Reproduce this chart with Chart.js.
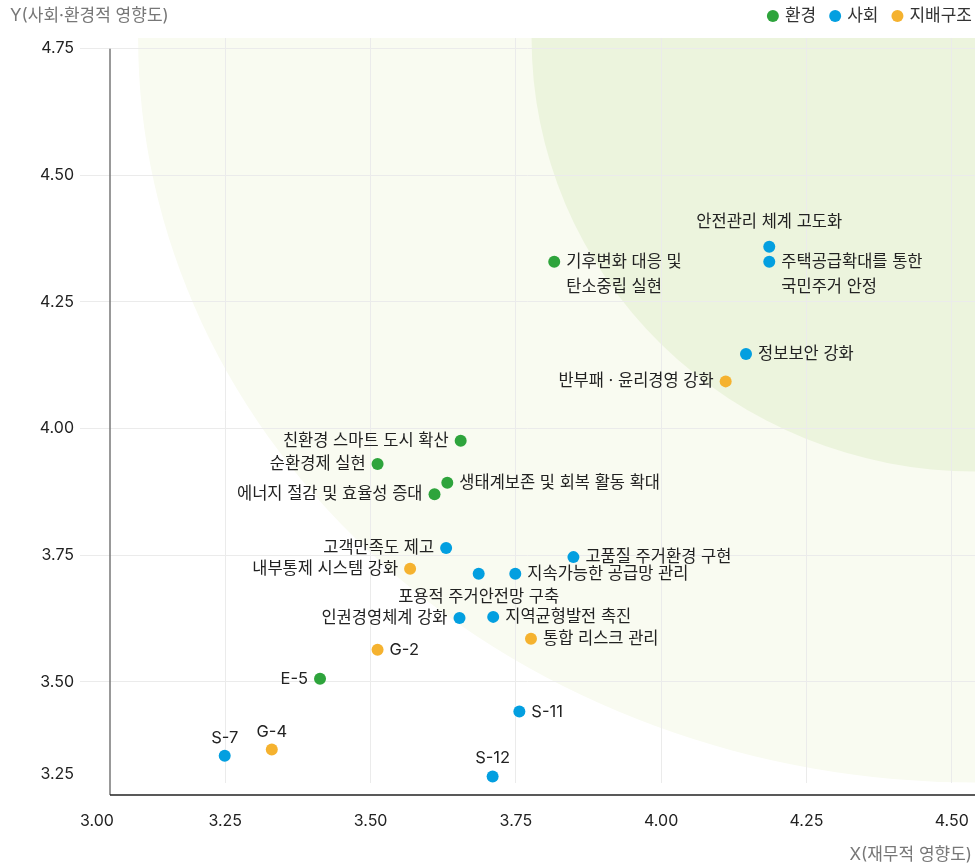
<!DOCTYPE html>
<html lang="ko">
<head>
<meta charset="utf-8">
<title>중대성 평가 매트릭스</title>
<script src="https://cdn.jsdelivr.net/npm/chart.js@4.4.1/dist/chart.umd.min.js"></script>
<style>
  html, body { margin: 0; padding: 0; background: #fff; }
  #wrap { width: 975px; height: 864px; }
</style>
</head>
<body>
<div id="wrap"><canvas id="matrix" width="975" height="864"></canvas></div>
<script>
// axis ticks and visible range
const xTicks = [3.00, 3.25, 3.50, 3.75, 4.00, 4.25, 4.50];
const yTicks = [3.25, 3.50, 3.75, 4.00, 4.25, 4.50, 4.75];
const xRange = [3.00, 4.54];
const yRange = [3.30, 4.771];

const seriesNames = ['환경', '사회', '지배구조'];

// 환경
const envLabels = ['기후변화 대응 및\n탄소중립 실현', '친환경 스마트 도시 확산', '순환경제 실현',
  '생태계보존 및 회복 활동 확대', '에너지 절감 및 효율성 증대', 'E-5'];
const envX = [3.816, 3.655, 3.512, 3.632, 3.610, 3.413];
const envY = [4.329, 3.976, 3.930, 3.893, 3.870, 3.506];

// 사회
const socLabels = ['안전관리 체계 고도화', '주택공급확대를 통한\n국민주거 안정', '정보보안 강화', '고객만족도 제고',
  '고품질 주거환경 구현', '포용적 주거안전망 구축', '지속가능한 공급망 관리', '인권경영체계 강화',
  '지역균형발전 촉진', 'S-11', 'S-7', 'S-12'];
const socX = [4.186, 4.186, 4.146, 3.630, 3.849, 3.686, 3.749, 3.653, 3.711, 3.756, 3.249, 3.710];
const socY = [4.359, 4.329, 4.147, 3.764, 3.746, 3.713, 3.713, 3.626, 3.628, 3.441, 3.354, 3.313];

// 지배구조
const govLabels = ['반부패 · 윤리경영 강화', '내부통제 시스템 강화', '통합 리스크 관리', 'G-2', 'G-4'];
const govX = [4.111, 3.568, 3.776, 3.512, 3.330];
const govY = [4.093, 3.723, 3.585, 3.563, 3.366];

// label placement: r = right, l = left, t = above, T = further above, b = below
const envSide = ['r', 'l', 'l', 'r', 'l', 'l'];
const socSide = ['T', 'r', 'r', 'l', 'r', 'b', 'r', 'l', 'r', 'r', 't', 't'];
const govSide = ['l', 'l', 'r', 'r', 't'];

// background zones, radii in axis units from the top-right corner
const zoneRx = [1.44, 0.763];
const zoneRy = [1.47, 0.856];
const zoneColors = ['#f9fbf1', '#ecf4dd'];

const seriesColors = ['#2ea43c', '#039fe0', '#f5b22f'];
const FONT = '"Inter", "Noto Sans CJK KR", sans-serif';

const toPoints = (xs, ys) => xs.map((x, i) => ({ x, y: ys[i] }));

const zonePlugin = {
  id: 'zones',
  beforeDraw(chart) {
    const { ctx, chartArea: a, scales: { x, y } } = chart;
    ctx.save();
    ctx.fillStyle = '#fff';
    ctx.fillRect(0, 0, chart.width, chart.height);
    ctx.beginPath();
    ctx.rect(a.left, a.top, a.right - a.left, a.bottom - a.top);
    ctx.clip();
    const cx = x.getPixelForValue(x.max);
    const cy = y.getPixelForValue(y.max);
    zoneRx.forEach((rx, i) => {
      const px = cx - x.getPixelForValue(x.max - rx);
      const py = y.getPixelForValue(y.max - zoneRy[i]) - cy;
      ctx.fillStyle = zoneColors[i];
      ctx.beginPath();
      ctx.ellipse(cx, cy, px, py, 0, 0, Math.PI * 2);
      ctx.fill();
    });
    ctx.restore();
  }
};

const axisPlugin = {
  id: 'axisDecor',
  afterDraw(chart) {
    const { ctx, chartArea: a, scales: { x, y } } = chart;
    const axisX = a.left + 30;
    const axisY = a.bottom + 12;
    ctx.save();

    // axis lines
    ctx.lineWidth = 1.5;
    ctx.strokeStyle = '#777';
    ctx.beginPath();
    ctx.moveTo(axisX, y.getPixelForValue(yTicks[yTicks.length - 1]));
    ctx.lineTo(axisX, axisY);
    ctx.stroke();
    ctx.strokeStyle = '#222';
    ctx.beginPath();
    ctx.moveTo(axisX, axisY);
    ctx.lineTo(a.right, axisY);
    ctx.stroke();

    // tick labels, kept inside the plot box
    ctx.font = `16px ${FONT}`;
    ctx.fillStyle = '#222';
    ctx.textBaseline = 'middle';
    ctx.textAlign = 'center';
    xTicks.forEach(v => {
      const t = v.toFixed(2);
      const w = ctx.measureText(t).width;
      let px = x.getPixelForValue(v);
      px = Math.min(Math.max(px, a.left + w / 2), a.right - w / 2);
      ctx.fillText(t, px, a.bottom + 38);
    });
    ctx.textAlign = 'right';
    yTicks.forEach(v => {
      let py = y.getPixelForValue(v);
      py = Math.min(Math.max(py, a.top + 9), a.bottom - 9);
      ctx.fillText(v.toFixed(2), a.left - 6, py);
    });

    // axis titles
    ctx.font = `17px ${FONT}`;
    ctx.fillStyle = '#777';
    ctx.textAlign = 'left';
    ctx.fillText('Y(사회·환경적 영향도)', 10, 16);
    ctx.textAlign = 'right';
    ctx.fillText('X(재무적 영향도)', 972, 855);

    // legend
    let lx = 972;
    const items = chart.data.datasets.map(d => d).reverse();
    items.forEach(d => {
      const tw = ctx.measureText(d.label).width;
      ctx.fillStyle = '#333';
      ctx.textAlign = 'right';
      ctx.fillText(d.label, lx, 16);
      lx -= tw + 6 + 6;
      ctx.fillStyle = d.backgroundColor;
      ctx.beginPath();
      ctx.arc(lx, 16, 6, 0, Math.PI * 2);
      ctx.fill();
      lx -= 6 + 13;
    });
    ctx.restore();
  },
  afterDatasetsDraw(chart) {
    const { ctx } = chart;
    ctx.save();
    ctx.font = `16.5px ${FONT}`;
    ctx.fillStyle = '#222';
    ctx.textBaseline = 'middle';
    chart.data.datasets.forEach((ds, i) => {
      chart.getDatasetMeta(i).data.forEach((pt, j) => {
        const lines = ds.names[j].split('\n');
        const side = ds.sides[j];
        lines.forEach((line, k) => {
          let tx = pt.x, ty = pt.y + k * 25;
          if (side === 'r') { ctx.textAlign = 'left'; tx += 12; }
          else if (side === 'l') { ctx.textAlign = 'right'; tx -= 12; }
          else {
            ctx.textAlign = 'center';
            if (side === 't') ty = pt.y - 18;
            else if (side === 'T') ty = pt.y - 25;
            else ty = pt.y + 23;
          }
          ctx.fillText(line, tx, ty);
        });
      });
    });
    ctx.restore();
  }
};

const gridColor = range => c => {
  const v = c.tick && c.tick.value;
  if (v === undefined || v <= range[0] || v > range[1]) return 'rgba(0,0,0,0)';
  return '#ebebeb';
};

new Chart(document.getElementById('matrix'), {
  type: 'scatter',
  data: {
    datasets: [
      { label: seriesNames[0], data: toPoints(envX, envY), names: envLabels, sides: envSide, backgroundColor: seriesColors[0] },
      { label: seriesNames[1], data: toPoints(socX, socY), names: socLabels, sides: socSide, backgroundColor: seriesColors[1] },
      { label: seriesNames[2], data: toPoints(govX, govY), names: govLabels, sides: govSide, backgroundColor: seriesColors[2] }
    ].map(d => Object.assign(d, { pointRadius: 6, pointHoverRadius: 6, borderWidth: 0 }))
  },
  options: {
    responsive: false,
    animation: false,
    events: [],
    layout: { autoPadding: false, padding: { left: 80, right: 0, top: 38, bottom: 81 } },
    plugins: { legend: { display: false }, tooltip: { enabled: false } },
    scales: {
      x: {
        type: 'linear', min: xRange[0], max: xRange[1],
        afterBuildTicks: s => { s.ticks = xTicks.map(v => ({ value: v })); },
        ticks: { display: false },
        grid: { color: gridColor(xRange), drawTicks: false, lineWidth: 1 },
        border: { display: false }
      },
      y: {
        type: 'linear', min: yRange[0], max: yRange[1],
        afterBuildTicks: s => { s.ticks = yTicks.map(v => ({ value: v })); },
        ticks: { display: false },
        grid: { color: gridColor(yRange), drawTicks: false, lineWidth: 1 },
        border: { display: false }
      }
    }
  },
  plugins: [zonePlugin, axisPlugin]
});
</script>
</body>
</html>
